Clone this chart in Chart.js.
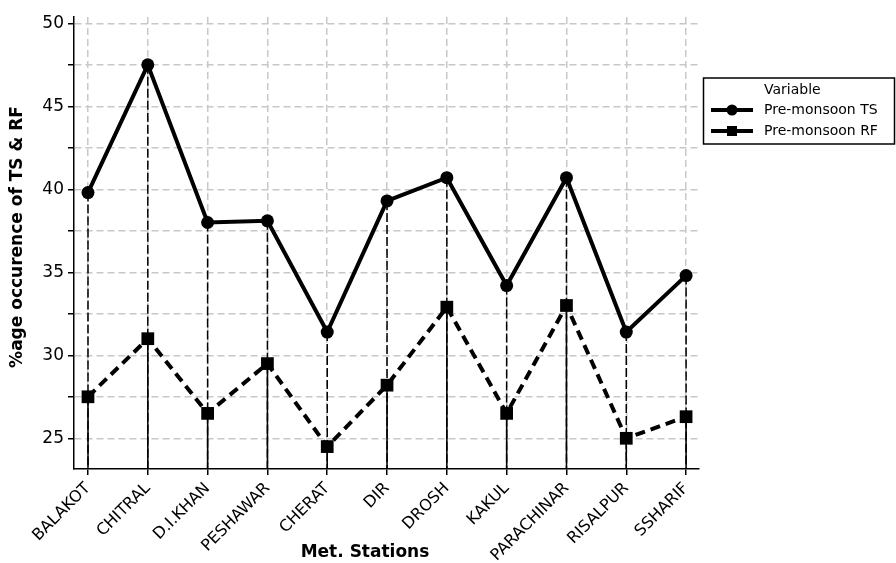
<!DOCTYPE html>
<html>
<head>
<meta charset="utf-8">
<script src="https://cdn.jsdelivr.net/npm/chart.js@4.4.0/dist/chart.umd.min.js"></script>
<style>
  html, body { margin: 0; padding: 0; background: #fff; }
</style>
</head>
<body>
<canvas id="chart" width="896" height="563"></canvas>
<script>
// Data
const stations = ['BALAKOT', 'CHITRAL', 'D.I.KHAN', 'PESHAWAR', 'CHERAT', 'DIR', 'DROSH', 'KAKUL', 'PARACHINAR', 'RISALPUR', 'SSHARIF'];
const tsValues = [39.8, 47.5, 38.0, 38.1, 31.4, 39.3, 40.7, 34.2, 40.7, 31.4, 34.8];
const rfValues = [27.5, 31.0, 26.5, 29.5, 24.5, 28.2, 32.9, 26.5, 33.0, 25.0, 26.3];
const yTicks = [25, 27.5, 30, 32.5, 35, 37.5, 40, 42.5, 45, 47.5, 50];
const seriesNames = ['Pre-monsoon TS', 'Pre-monsoon RF'];
const legendTitle = 'Variable';
const xTitle = 'Met. Stations';
const yTitle = '%age occurence of TS & RF';

const FONT = '"DejaVu Sans", Verdana, sans-serif';

// vertical project lines from each point down to the x axis
const dropLines = {
    id: 'dropLines',
    beforeDatasetsDraw(chart) {
        const { ctx, scales: { x, y }, chartArea } = chart;
        ctx.save();
        ctx.strokeStyle = '#000';
        ctx.lineWidth = 1.5;
        stations.forEach((s, i) => {
            const px = x.getPixelForValue(i);
            ctx.setLineDash([9, 3]);
            ctx.beginPath();
            ctx.moveTo(px, y.getPixelForValue(tsValues[i]));
            ctx.lineTo(px, chartArea.bottom);
            ctx.stroke();
            ctx.setLineDash([]);
            ctx.beginPath();
            ctx.moveTo(px, y.getPixelForValue(rfValues[i]));
            ctx.lineTo(px, chartArea.bottom);
            ctx.stroke();
        });
        ctx.restore();
    }
};

// axis titles + boxed legend (Minitab style)
const extras = {
    id: 'extras',
    afterDraw(chart) {
        const { ctx } = chart;
        ctx.save();
        ctx.fillStyle = '#000';
        ctx.font = 'bold 17px ' + FONT;
        ctx.textAlign = 'center';
        ctx.textBaseline = 'middle';
        ctx.fillText(xTitle, 365, 553);
        ctx.translate(18, 237);
        ctx.rotate(-Math.PI / 2);
        ctx.fillText(yTitle, 0, 0);
        ctx.restore();

        ctx.save();
        ctx.strokeStyle = '#000';
        ctx.lineWidth = 1.5;
        ctx.strokeRect(703.5, 78, 191, 66);
        ctx.fillStyle = '#000';
        ctx.font = '14px ' + FONT;
        ctx.textBaseline = 'middle';
        ctx.textAlign = 'left';
        ctx.fillText(legendTitle, 764, 90);
        const rows = [110, 131];
        chart.data.datasets.forEach((ds, i) => {
            const yy = rows[i];
            ctx.lineWidth = 4;
            ctx.setLineDash([]);
            ctx.beginPath();
            ctx.moveTo(711, yy);
            ctx.lineTo(753, yy);
            ctx.stroke();
            if (ds.pointStyle === 'circle') {
                ctx.beginPath();
                ctx.arc(732, yy, 5.5, 0, Math.PI * 2);
                ctx.fill();
            } else {
                ctx.fillRect(727, yy - 5, 10, 10);
            }
            ctx.fillText(ds.label, 764, yy);
        });
        ctx.restore();
    }
};

new Chart(document.getElementById('chart'), {
    type: 'line',
    data: {
        datasets: [
            {
                label: seriesNames[0],
                data: tsValues.map((v, i) => ({ x: i, y: v })),
                borderColor: '#000',
                backgroundColor: '#000',
                borderWidth: 4,
                pointStyle: 'circle',
                pointRadius: 6.5,
                pointBorderWidth: 0,
                tension: 0
            },
            {
                label: seriesNames[1],
                data: rfValues.map((v, i) => ({ x: i, y: v })),
                borderColor: '#000',
                backgroundColor: '#000',
                borderWidth: 4,
                borderDash: [10, 6],
                pointStyle: 'rect',
                pointRadius: 9,
                pointBorderWidth: 0,
                tension: 0
            }
        ]
    },
    options: {
        responsive: false,
        animation: false,
        layout: { padding: { top: 17, right: 197, left: 0, bottom: 0 } },
        plugins: {
            legend: { display: false },
            tooltip: { enabled: false }
        },
        scales: {
            x: {
                type: 'linear',
                min: -0.234,
                max: 10.216,
                afterFit(s) { s.height = 94; },
                afterBuildTicks(s) { s.ticks = stations.map((_, i) => ({ value: i })); },
                ticks: {
                    autoSkip: false,
                    minRotation: 45,
                    maxRotation: 45,
                    padding: 4,
                    color: '#000',
                    font: { family: FONT, size: 16 },
                    callback: (v) => stations[v]
                },
                grid: { color: '#c8c8c8', lineWidth: 1.5, tickColor: '#000', tickLength: 6, tickWidth: 1.5 },
                border: { color: '#000', width: 1.5, dash: [7, 4] }
            },
            y: {
                min: 23.15,
                max: 50.38,
                afterFit(s) { s.width = 74; },
                afterBuildTicks(s) { s.ticks = yTicks.map(v => ({ value: v })); },
                ticks: {
                    padding: 4,
                    color: '#000',
                    font: { family: FONT, size: 17 },
                    callback: (v) => (v % 5 === 0 ? v : '')
                },
                grid: { color: '#c8c8c8', lineWidth: 1.5, tickColor: '#000', tickLength: 6, tickWidth: 1.5 },
                border: { color: '#000', width: 1.5, dash: [7, 4] }
            }
        }
    },
    plugins: [dropLines, extras]
});
</script>
</body>
</html>
